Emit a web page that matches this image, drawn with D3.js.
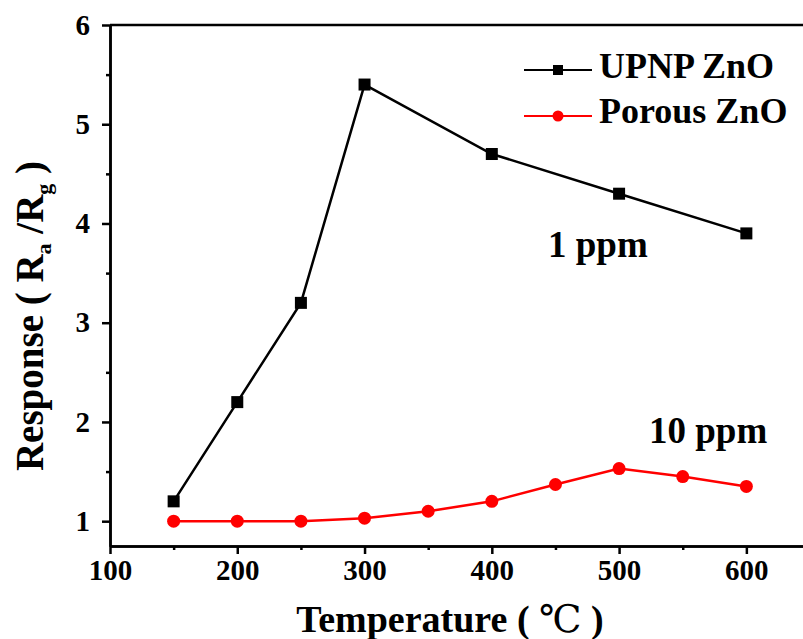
<!DOCTYPE html>
<html>
<head>
<meta charset="utf-8">
<script src="https://d3js.org/d3.v7.min.js"></script>
<style>
  body { margin: 0; background: white; }
  svg { display: block; }
</style>
</head>
<body>
<div id="chart"></div>
<script>
// data
const upnpTemps = [150, 200, 250, 300, 400, 500, 600]
const upnpResponse = [1.2, 2.2, 3.2, 5.4, 4.7, 4.3, 3.9]
const porousTemps = [150, 200, 250, 300, 350, 400, 450, 500, 550, 600]
const porousResponse = [1.0, 1.0, 1.0, 1.03, 1.1, 1.2, 1.37, 1.53, 1.45, 1.35]
const xTicks = [100, 200, 300, 400, 500, 600]
const yTicks = [1, 2, 3, 4, 5, 6]

const width = 803, height = 639
const serif = "'Liberation Serif', 'Times New Roman', 'DejaVu Serif', serif"

let svg = d3.select('#chart').append('svg')
    .attr('width', width).attr('height', height)
    .attr('font-family', serif).attr('font-weight', 'bold')

// plot box: left/top fixed, right edge runs past the window like in the picture
let x = d3.scaleLinear().domain([100, 650]).range([110, 810])
let y = d3.scaleLinear().domain([0.75, 6]).range([546, 25])

// x axis (major + minor ticks, outward)
let xAxis = svg.append('g').attr('transform', 'translate(0,546)')
    .call(d3.axisBottom(x).tickValues(xTicks).tickSize(8).tickSizeOuter(0).tickPadding(5).tickFormat(d3.format('d')))
xAxis.append('g').call(d3.axisBottom(x).tickValues([150, 250, 350, 450, 550, 650]).tickSize(4).tickSizeOuter(0).tickFormat(''))
xAxis.selectAll('path.domain').attr('stroke-width', 2.5)
xAxis.selectAll('.tick line').attr('stroke-width', 2.5)
xAxis.attr('font-family', serif).attr('font-size', 29)
xAxis.selectAll('.tick text').attr('fill', '#000')

// y axis
let yAxis = svg.append('g').attr('transform', 'translate(110,0)')
    .call(d3.axisLeft(y).tickValues(yTicks).tickSize(8).tickSizeOuter(0).tickPadding(12).tickFormat(d3.format('d')))
yAxis.append('g').call(d3.axisLeft(y).tickValues([1.5, 2.5, 3.5, 4.5, 5.5]).tickSize(4).tickSizeOuter(0).tickFormat(''))
yAxis.selectAll('path.domain').attr('stroke-width', 2.5)
yAxis.selectAll('.tick line').attr('stroke-width', 2.5)
yAxis.attr('font-family', serif).attr('font-size', 29)
yAxis.selectAll('.tick text').attr('fill', '#000')

// top border of the frame
svg.append('line')
    .attr('x1', x(100)).attr('x2', width + 5)
    .attr('y1', y(6)).attr('y2', y(6))
    .attr('stroke', '#000').attr('stroke-width', 2.5)

let line = d3.line().x(d => x(d[0])).y(d => y(d[1]))

let upnp = upnpTemps.map((t, i) => [t, upnpResponse[i]])
let porous = porousTemps.map((t, i) => [t, porousResponse[i]])

svg.append('path').datum(upnp).attr('d', line)
    .attr('fill', 'none').attr('stroke', '#000').attr('stroke-width', 2.5)
svg.selectAll('rect.upnp').data(upnp).enter().append('rect')
    .attr('class', 'upnp')
    .attr('x', d => x(d[0]) - 6).attr('y', d => y(d[1]) - 6)
    .attr('width', 12).attr('height', 12).attr('fill', '#000')

svg.append('path').datum(porous).attr('d', line)
    .attr('fill', 'none').attr('stroke', '#ff0000').attr('stroke-width', 2.5)
svg.selectAll('circle.porous').data(porous).enter().append('circle')
    .attr('class', 'porous')
    .attr('cx', d => x(d[0])).attr('cy', d => y(d[1]))
    .attr('r', 6.5).attr('fill', '#ff0000')

// legend
let legend = svg.append('g').attr('font-size', 36)
legend.append('line').attr('x1', 524).attr('x2', 592).attr('y1', 70).attr('y2', 70)
    .attr('stroke', '#000').attr('stroke-width', 2.2)
legend.append('rect').attr('x', 553).attr('y', 65).attr('width', 10).attr('height', 10).attr('fill', '#000')
legend.append('text').attr('x', 599).attr('y', 78).text('UPNP ZnO')
legend.append('line').attr('x1', 524).attr('x2', 592).attr('y1', 116).attr('y2', 116)
    .attr('stroke', '#ff0000').attr('stroke-width', 2.2)
legend.append('circle').attr('cx', 558).attr('cy', 116).attr('r', 5.5).attr('fill', '#ff0000')
legend.append('text').attr('x', 599).attr('y', 123).text('Porous ZnO')

// annotations
svg.append('text').attr('x', 548).attr('y', 257).attr('font-size', 37).text('1 ppm')
svg.append('text').attr('x', 649).attr('y', 443).attr('font-size', 37).text('10 ppm')

// axis titles
let xt = svg.append('text').attr('x', 450).attr('y', 632).attr('text-anchor', 'middle').attr('font-size', 38)
xt.append('tspan').text('Temperature ( ')
xt.append('tspan').attr('font-weight', 'normal').text('℃')
xt.append('tspan').text(' )')

let yt = svg.append('text').attr('transform', 'translate(43,316) rotate(-90)')
    .attr('text-anchor', 'middle').attr('font-size', 39)
yt.append('tspan').text('Response ( R')
yt.append('tspan').attr('font-size', 22).attr('dy', 8).text('a')
yt.append('tspan').attr('dy', -8).text(' /R')
yt.append('tspan').attr('font-size', 22).attr('dy', 8).text('g')
yt.append('tspan').attr('dy', -8).text(' )')
</script>
</body>
</html>
